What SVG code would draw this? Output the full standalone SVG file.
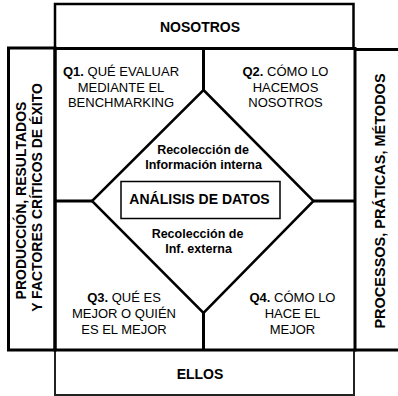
<svg xmlns="http://www.w3.org/2000/svg" width="398" height="396" viewBox="0 0 398 396">
<style>
text{font-family:"Liberation Sans",Arial,sans-serif;fill:#000;text-anchor:middle}
.h{font-weight:bold;font-size:14px}
.q{font-size:13px}
.r{font-weight:bold;font-size:12.5px}
.b{font-weight:bold}
.ln{stroke:#000;stroke-width:3;fill:none}
.bx{stroke:#000;stroke-width:2.5;fill:#fff}
</style>
<rect width="398" height="396" fill="#fff"/>
<g id="connectors">
<line class="ln" x1="203.5" y1="48.5" x2="203.5" y2="90"/>
<line class="ln" x1="203.5" y1="313" x2="203.5" y2="350"/>
<line class="ln" x1="55" y1="201" x2="92" y2="201"/>
<line class="ln" x1="313.5" y1="201" x2="355" y2="201"/>
</g>
<g id="nosotros">
<rect class="bx" x="55" y="4" width="298.5" height="44.5"/>
<text class="h" x="200" y="31.5">NOSOTROS</text>
</g>
<g id="ellos">
<path d="M55,350V395H354V350" fill="none" stroke="#222" stroke-width="2"/>
<text class="h" x="200" y="379">ELLOS</text>
</g>
<g id="produccion">
<rect class="ln" x="8.5" y="48" width="46.5" height="302"/>
<text class="h" transform="translate(26,200.5) rotate(-90)">PRODUCCIÓN, RESULTADOS</text>
<text class="h" transform="translate(41.5,197.5) rotate(-90)">Y FACTORES CRÍTICOS DE ÉXITO</text>
</g>
<g id="procesos">
<path class="ln" d="M355,49.5H400M355,350H400"/>
<text class="h" style="font-size:14.5px" transform="translate(384.5,201) rotate(-90)">PROCESSOS, PRÁTICAS, MÉTODOS</text>
</g>
<g id="main">
<rect class="ln" x="55" y="48.5" width="300" height="301.5"/>
</g>
<g id="q1">
<text class="q" x="121" y="76"><tspan class="b">Q1.</tspan> QUÉ EVALUAR</text>
<text class="q" x="121" y="91.5">MEDIANTE EL</text>
<text class="q" x="121" y="107">BENCHMARKING</text>
</g>
<g id="q2">
<text class="q" x="285.5" y="76"><tspan class="b">Q2.</tspan> CÓMO LO</text>
<text class="q" x="285.5" y="91.5">HACEMOS</text>
<text class="q" x="285.5" y="107">NOSOTROS</text>
</g>
<g id="q3">
<text class="q" x="124" y="302"><tspan class="b">Q3.</tspan> QUÉ ES</text>
<text class="q" x="124" y="318">MEJOR O QUIÉN</text>
<text class="q" x="124" y="334">ES EL MEJOR</text>
</g>
<g id="q4">
<text class="q" x="292.5" y="302"><tspan class="b">Q4.</tspan> CÓMO LO</text>
<text class="q" x="292.5" y="318">HACE EL</text>
<text class="q" x="292.5" y="334">MEJOR</text>
</g>
<g id="diamond">
<polygon points="203.5,90 313.5,201 203.5,313 92,201" fill="none" stroke="#000" stroke-width="2.5"/>
<text class="r" x="203" y="153.5">Recolección de</text>
<text class="r" x="203.5" y="168.5">Información interna</text>
<text class="r" x="197.5" y="237.5">Recolección de</text>
<text class="r" x="198.5" y="253">Inf. externa</text>
</g>
<g id="analisis">
<rect x="121" y="181.5" width="159" height="37" fill="none" stroke="#000" stroke-width="1.5"/>
<text class="h" x="199.5" y="204">ANÁLISIS DE DATOS</text>
</g>
</svg>
